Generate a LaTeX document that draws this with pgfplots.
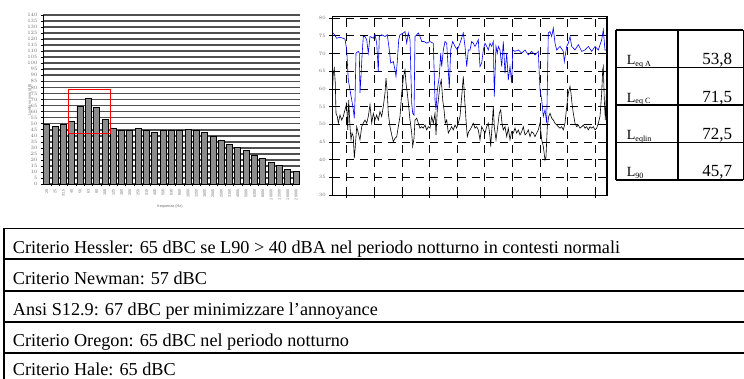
\documentclass[border=0pt]{standalone}
\usepackage{pgfplots}
\pgfplotsset{compat=1.18}
\usepackage{fontspec}
\setmainfont{Liberation Serif}
\newfontfamily\arial{Liberation Sans}
\definecolor{bargray}{HTML}{8C8C8C}
\definecolor{gridgray}{HTML}{505050}
\definecolor{lblgray}{HTML}{707070}
\begin{document}
\begin{tikzpicture}[x=1pt,y=1pt]
\useasboundingbox (0,0) rectangle (744,379);
\fill[white] (0,0) rectangle (744,379);
% ---------------- bar chart ----------------
\begin{axis}[at={(43pt,195pt)}, anchor=south west, scale only axis,
  width=257pt, height=169pt,
  xmin=-0.45, xmax=30.48, ymin=0, ymax=140,
  axis lines*=left,
  axis line style={black, line width=0.8pt},
  ybar, bar width=6pt,
  xtick={0,...,30},
  xticklabels={20,25,31.5,40,50,63,80,100,125,160,200,250,315,400,500,630,800,1000,1250,1600,2000,2500,3150,4000,5000,6300,8000,10000,12500,16000,20000},
  x tick label style={rotate=90, anchor=east, font=\arial\fontsize{3.8}{3.8}\selectfont, text=lblgray},
  major x tick style={draw=none},
  minor x tick num=1,
  minor tick length=2.5pt,
  minor x tick style={black, line width=0.4pt},
  ytick={0,5,...,140},
  y tick label style={font=\arial\fontsize{3.8}{3.8}\selectfont, text=lblgray},
  tick align=outside, major tick length=2pt,
  major y tick style={black, line width=0.4pt},
  ymajorgrids, grid style={gridgray, line width=1.7pt},
  clip=false,
]
\addplot[fill=bargray, draw=black, line width=0.8pt] coordinates {
(0,49) (1,48) (2,49) (3,52) (4,64.3) (5,71) (6,63.2) (7,53.8) (8,46) (9,44.4)
(10,44.4) (11,46) (12,44.4) (13,43) (14,44.4) (15,44.4) (16,44.4) (17,45.5) (18,44.2) (19,42.4)
(20,39.4) (21,36) (22,33) (23,30.5) (24,28) (25,23.8) (26,21.3) (27,18) (28,15.3) (29,12.2) (30,10.5)};
\draw[red, line width=0.8pt] (axis cs:2.6,42.2) rectangle (axis cs:7.7,78.2);
\end{axis}
\node[rotate=90, font=\arial\fontsize{3.8}{3.8}\selectfont, text=lblgray] at (30,279) {Livello sonoro (dB)};
\node[font=\arial\fontsize{3.8}{3.8}\selectfont, text=lblgray] at (170,172) {frequenza (Hz)};
% ---------------- time series ----------------
\begin{axis}[at={(332.3pt,184pt)}, anchor=south west, scale only axis,
  width=275pt, height=179pt,
  xmin=0, xmax=275, ymin=30, ymax=80.6,
  xtick={14.4,42,69.6,97.2,124.8,152.4,180,207.6,235.2,262.8},
  xticklabels={},
  ytick={30,35,...,80},
  y tick label style={font=\arial\fontsize{5.5}{5.5}\selectfont, text=lblgray},
  tick pos=left, tick align=outside, major tick length=3pt,
  tick style={black, line width=0.6pt},
  axis line style={black, line width=0.9pt},
  grid=major, grid style={black, line width=0.7pt, dash pattern=on 8pt off 6pt},
]
\addplot[blue, line width=0.6pt] coordinates {
(1.0,75.8) (4.4,74.3) (7.7,74.6) (12.7,74.1) (14.4,71.0) (16.0,62.5) (17.7,59.7) (19.4,56.9) (21.0,54.1) (22.0,51.7)
(22.7,56.9) (23.7,70.1) (26.0,70.6) (27.0,70.1) (27.7,58.8) (28.7,63.5) (29.7,69.2) (31.0,74.8) (32.7,74.8) (34.4,73.9)
(36.0,70.1) (37.7,74.8) (41.0,74.3) (42.7,75.3) (44.4,72.9) (46.0,64.9) (47.0,74.8) (49.4,75.3) (52.7,74.8) (55.0,75.3)
(57.0,71.0) (58.4,67.3) (61.0,67.7) (62.7,65.4) (63.7,63.5) (65.0,67.7) (66.4,73.9) (67.7,75.3) (71.0,75.8) (72.7,76.2)
(74.4,72.9) (76.0,75.8) (77.7,73.9) (79.4,55.9) (80.4,53.1) (81.7,52.6) (82.7,74.8) (84.4,75.3) (86.0,75.8) (87.7,74.8)
(89.4,73.4) (91.7,73.4) (94.4,72.9) (97.7,73.4) (99.4,73.1) (101.0,72.9) (102.7,56.9) (103.7,54.1) (105.0,59.7) (107.0,63.5)
(108.4,70.1) (109.4,66.3) (111.0,71.0) (112.7,73.4) (114.4,72.9) (117.0,60.2) (118.4,71.0) (120.4,73.4) (122.7,72.0) (125.0,71.0)
(127.7,72.9) (131.0,75.8) (132.7,72.0) (134.4,66.3) (136.0,71.0) (137.7,71.0)
(139.4,73.4) (141.0,72.9) (142.7,72.0) (144.4,72.9) (146.0,73.9) (147.7,66.3) (149.4,67.3) (151.0,71.0) (152.7,72.9) (154.4,72.0)
(156.0,71.0) (157.7,72.9) (159.4,72.0) (161.0,73.4) (162.0,57.8) (163.7,72.0) (165.0,70.1) (166.0,72.0) (167.7,71.0) (169.4,66.3)
(171.0,73.4) (172.7,64.4) (174.4,70.1) (176.0,62.5) (177.7,66.3) (179.4,61.6) (180.4,71.0) (182.7,70.6) (186.0,71.0) (189.4,70.1)
(192.7,71.0) (196.0,69.6) (199.4,70.6) (202.7,69.6) (206.0,70.6) (207.7,59.7) (209.4,56.9) (211.0,52.2) (212.7,54.1) (214.4,50.3)
(216.0,75.8) (217.7,76.2) (219.4,74.8) (221.0,77.2) (222.7,72.9) (224.4,71.0) (227.7,72.0) (231.0,70.6) (232.0,67.7) (234.4,72.0)
(236.0,72.9) (237.7,74.8) (239.4,72.0) (242.7,71.0) (246.0,72.5) (249.4,70.6) (252.7,71.0) (256.0,72.0) (259.4,70.6) (262.7,72.0)
(266.0,71.0) (269.4,73.9) (271.0,76.7) (272.7,71.0) (274.4,71.0)};
\addplot[black, line width=0.6pt] coordinates {
(0.0,58.8) (1.0,64.4) (2.0,65.8) (3.0,61.6) (3.7,53.1) (5.0,52.2) (6.0,50.3) (7.7,52.6) (9.4,51.2) (11.0,52.2)
(12.7,54.1) (14.4,55.9) (15.4,48.4) (16.4,56.9) (17.7,49.3) (18.7,45.6) (19.7,47.5) (21.0,46.5) (22.0,40.4) (23.0,43.7)
(24.4,49.3) (26.0,47.5) (27.7,45.6) (29.4,49.3) (31.0,50.3) (32.7,51.2) (34.4,50.3) (36.0,52.2) (37.7,55.5) (39.4,50.3)
(41.0,53.1) (42.7,51.2) (44.4,52.6) (46.0,51.2) (47.7,53.6) (49.4,52.2) (51.0,55.0) (52.7,58.8) (53.7,63.0) (55.0,58.8)
(56.0,53.1) (57.7,49.3) (59.4,47.0) (61.0,45.1) (62.7,46.0) (64.4,46.5) (66.0,49.3) (67.7,52.2) (69.4,58.8) (71.0,63.0)
(72.7,65.4) (73.7,61.6) (75.0,58.8) (76.4,55.0) (77.7,51.2) (79.4,47.5) (80.4,43.7) (81.7,46.0) (82.7,51.2) (84.4,51.7)
(86.0,50.3) (87.7,48.9) (89.4,49.3) (91.0,48.9) (92.7,49.8) (94.4,48.4) (96.0,49.3) (97.7,48.9) (99.4,52.2) (101.0,50.3)
(102.7,53.1) (103.7,47.0) (105.0,54.1) (106.4,57.8) (107.7,61.1) (109.0,62.5) (110.4,56.9) (111.7,54.1) (113.0,50.3) (114.4,51.2)
(116.0,47.5) (117.7,48.4) (119.4,49.3) (121.0,48.4) (122.7,49.8) (124.4,48.9) (126.0,50.3) (127.7,52.2) (129.4,57.8) (131.0,63.5)
(132.4,56.9) (133.7,51.2) (135.0,46.5) (136.4,47.9) (137.7,48.4)
(139.4,49.3) (141.0,50.3) (142.7,48.9) (144.4,49.3) (146.0,48.4) (147.7,45.6) (149.4,49.3) (151.0,48.4) (152.7,47.5) (154.4,49.3)
(156.0,50.3) (157.7,46.5) (158.4,43.7) (159.4,47.9) (161.0,55.0) (162.0,49.3) (163.7,45.6) (165.0,48.4) (167.0,53.1) (168.4,54.1)
(169.7,50.3) (171.0,48.4) (172.7,49.3) (174.4,46.5) (176.0,48.9) (177.7,45.6) (179.4,47.9) (181.0,47.5) (182.7,48.9) (184.4,47.5)
(186.0,48.4) (187.7,47.0) (189.4,47.9) (191.0,49.3) (192.7,47.0) (194.4,47.5) (196.0,48.4) (197.7,46.5) (199.4,47.9) (201.0,47.5)
(202.7,46.5) (204.4,47.5) (206.0,48.4) (207.7,50.3) (209.4,45.6) (211.0,43.7) (212.7,39.9) (213.7,40.8) (215.0,49.3) (216.4,52.2)
(217.7,53.1) (219.4,51.7) (221.0,51.2) (222.7,50.3) (224.4,49.8) (226.0,49.3) (227.7,48.9) (229.4,49.3) (231.0,48.4) (232.7,50.3)
(234.4,55.0) (236.0,58.8) (237.7,60.7) (238.7,58.8) (239.7,55.9) (241.0,53.1) (242.7,50.3) (244.4,49.3) (246.0,49.8) (247.7,48.9)
(249.4,49.3) (251.0,49.8) (252.7,48.9) (254.4,49.3) (256.0,48.4) (257.7,49.3) (259.4,48.9) (261.0,49.3) (262.7,48.4) (264.4,48.9)
(266.0,50.3) (267.7,52.2) (269.4,58.8) (270.4,65.4) (271.0,66.3) (272.0,56.9) (273.0,51.2) (274.4,61.6)};
\draw[black, line width=2pt] (rel axis cs:1,0) -- (rel axis cs:1,1);
\end{axis}
% ---------------- Leq table ----------------
\draw[line width=1.3pt] (616,349) -- (743.3,349);
\draw[line width=1.8pt] (616,199) -- (743.3,199);
\draw[line width=1.8pt] (616,349) -- (616,199);
\draw[line width=1.8pt] (678.3,349) -- (678.3,199);
\draw[line width=1.0pt] (743.3,349) -- (743.3,199);
\draw[line width=1.0pt] (616,311.7) -- (743.3,311.7);
\draw[line width=1.8pt] (616,274) -- (743.3,274);
\draw[line width=1.0pt] (616,236.3) -- (743.3,236.3);
\node[anchor=base west, inner sep=0pt, font=\fontsize{14}{14}\selectfont] at (626.7,314) {L\raisebox{-1.5pt}{\fontsize{8}{8}\selectfont eq A}};
\node[anchor=base west, inner sep=0pt, font=\fontsize{14}{14}\selectfont] at (626.7,276.7) {L\raisebox{-1.5pt}{\fontsize{8}{8}\selectfont eq C}};
\node[anchor=base west, inner sep=0pt, font=\fontsize{14}{14}\selectfont] at (626.7,239) {L\raisebox{-1.5pt}{\fontsize{8}{8}\selectfont eqlin}};
\node[anchor=base west, inner sep=0pt, font=\fontsize{14}{14}\selectfont] at (626.7,202.3) {L\raisebox{-1.5pt}{\fontsize{8}{8}\selectfont 90}};
\node[anchor=base east, inner sep=0pt, font=\fontsize{17}{17}\selectfont] at (732.3,314) {53,8};
\node[anchor=base east, inner sep=0pt, font=\fontsize{17}{17}\selectfont] at (732.3,276.7) {71,5};
\node[anchor=base east, inner sep=0pt, font=\fontsize{17}{17}\selectfont] at (732.3,239) {72,5};
\node[anchor=base east, inner sep=0pt, font=\fontsize{17}{17}\selectfont] at (732.3,202.3) {45,7};
% ---------------- bottom table ----------------
\draw[line width=1.0pt] (4,150.7) -- (744,150.7);
\draw[line width=1.8pt] (4,119.7) -- (744,119.7);
\draw[line width=1.8pt] (4,88.3) -- (744,88.3);
\draw[line width=1.8pt] (4,57.3) -- (744,57.3);
\draw[line width=1.8pt] (4,26.3) -- (744,26.3);
\draw[line width=1.2pt] (4,151.2) -- (4,0);
\begin{scope}[every node/.style={anchor=base west, inner sep=0pt, font=\fontsize{18.2}{18.2}\selectfont}]
\node at (12.7,125.7) {Criterio Hessler: 65 dBC se L90 > 40 dBA nel periodo notturno in contesti normali};
\node at (12.7,94.6) {Criterio Newman: 57 dBC};
\node at (12.7,63.5) {Ansi S12.9: 67 dBC per minimizzare l’annoyance};
\node at (12.7,32.4) {Criterio Oregon: 65 dBC nel periodo notturno};
\node at (12.7,3.2) {Criterio Hale: 65 dBC};
\end{scope}
\end{tikzpicture}
\end{document}
